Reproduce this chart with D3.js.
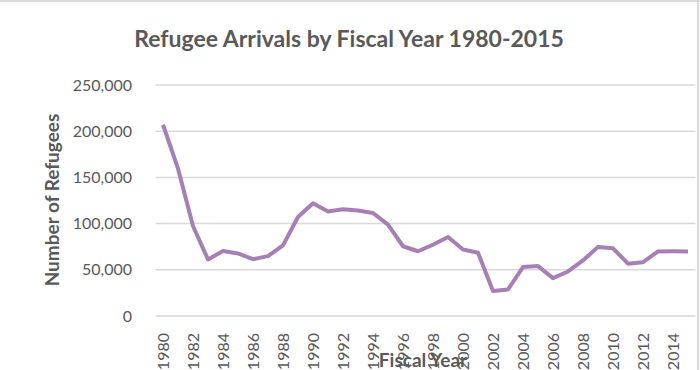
<!DOCTYPE html>
<html>
<head>
<meta charset="utf-8">
<script src="https://cdn.jsdelivr.net/npm/d3@7"></script>
<style>
  body { margin: 0; background: #fff; }
  text { font-family: Lato, "Open Sans", sans-serif; }
</style>
</head>
<body>
<div id="container"></div>
<script>
/**
 * CONSTANTS AND GLOBALS
 * */
const width = 700,
  height = 370,
  margin = { top: 85, bottom: 54, left: 155.5, right: 4.5 };

// data
const years = d3.range(1980, 2016);
const arrivals = [
  207000, 159500, 97400, 61200, 70400, 67700, 61500, 64800, 76500, 107100,
  122000, 113000, 115500, 114200, 111500, 98900, 75500, 70100, 77100, 85500,
  72000, 68500, 27100, 28700, 52900, 54000, 41000, 48200, 60100, 74800,
  73300, 56600, 58200, 69900, 70000, 69900
];
const yTicks = [0, 50000, 100000, 150000, 200000, 250000];

let svg;

/**
 * DRAW
 * */
svg = d3.select("#container")
  .append("svg")
  .attr("width", width)
  .attr("height", height);

// chart frame (top + right edges visible)
svg.append("line")
  .attr("x1", 0).attr("x2", width).attr("y1", 1).attr("y2", 1)
  .attr("stroke", "#d9d9d9").attr("stroke-width", 2);
svg.append("line")
  .attr("x1", 698).attr("x2", 698).attr("y1", 0).attr("y2", height)
  .attr("stroke", "#d9d9d9").attr("stroke-width", 2);

const xScale = d3.scaleBand()
  .domain(years)
  .range([margin.left, width - margin.right]);

const yScale = d3.scaleLinear()
  .domain([0, 250000])
  .range([316, margin.top]);

// gridlines
svg.selectAll("line.grid")
  .data(yTicks)
  .join("line")
  .attr("class", "grid")
  .attr("x1", margin.left)
  .attr("x2", width - margin.right)
  .attr("y1", d => yScale(d))
  .attr("y2", d => yScale(d))
  .attr("stroke", "#d9d9d9")
  .attr("stroke-width", 1.5);

// y axis labels
const yAxis = d3.axisLeft(yScale)
  .tickValues(yTicks)
  .tickFormat(d3.format(","))
  .tickSize(0)
  .tickPadding(0);

svg.append("g")
  .attr("transform", `translate(132,0)`)
  .call(yAxis)
  .call(g => g.select(".domain").remove())
  .selectAll("text")
  .attr("fill", "#595959")
  .attr("font-size", 16)
  .attr("font-family", "Lato, sans-serif");

// x axis labels (every other year)
const xAxis = d3.axisBottom(xScale)
  .tickValues(years.filter(d => d % 2 === 0))
  .tickSize(0)
  .tickPadding(0);

svg.append("g")
  .attr("transform", `translate(0,316)`)
  .call(xAxis)
  .call(g => g.select(".domain").remove())
  .selectAll("text")
  .attr("fill", "#595959")
  .attr("font-size", 16)
  .attr("font-family", "Lato, sans-serif")
  .attr("text-anchor", "end")
  .attr("dy", null)
  .attr("y", 0)
  .attr("transform", "translate(5.5,17) rotate(-90)");

// line
const line = d3.line()
  .x((d, i) => xScale(years[i]) + xScale.bandwidth() / 2)
  .y(d => yScale(d));

svg.append("path")
  .datum(arrivals)
  .attr("d", line)
  .attr("fill", "none")
  .attr("stroke", "#a680b4")
  .attr("stroke-width", 4)
  .attr("stroke-linejoin", "round");

// title
svg.append("text")
  .attr("x", 349)
  .attr("y", 47)
  .attr("text-anchor", "middle")
  .attr("font-size", 23)
  .attr("font-weight", "bold")
  .attr("fill", "#595959")
  .text("Refugee Arrivals by Fiscal Year 1980-2015");

// axis titles
svg.append("text")
  .attr("transform", "translate(59,200) rotate(-90)")
  .attr("text-anchor", "middle")
  .attr("font-size", 19)
  .attr("font-weight", "bold")
  .attr("fill", "#595959")
  .text("Number of Refugees");

svg.append("text")
  .attr("x", 423)
  .attr("y", 367)
  .attr("text-anchor", "middle")
  .attr("font-size", 19)
  .attr("font-weight", "bold")
  .attr("fill", "#595959")
  .text("Fiscal Year");
</script>
</body>
</html>
